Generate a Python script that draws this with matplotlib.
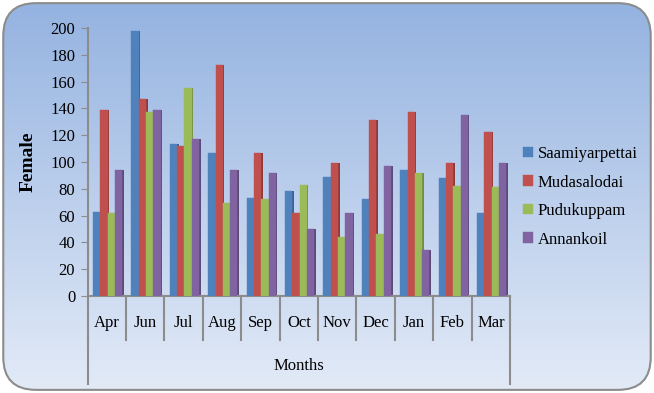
import matplotlib.pyplot as plt
import numpy as np
from matplotlib.patches import FancyBboxPatch

months = ['Apr', 'Jun', 'Jul', 'Aug', 'Sep', 'Oct', 'Nov', 'Dec', 'Jan', 'Feb', 'Mar']
saamiyarpettai = [63, 198, 113, 107, 73, 78, 89, 72, 94, 88, 62]
mudasalodai = [139, 147, 112, 172, 107, 62, 99, 131, 137, 99, 122]
pudukuppam = [62, 137, 155, 69, 72, 83, 44, 46, 92, 82, 81]
annankoil = [94, 139, 117, 94, 92, 50, 62, 97, 34, 135, 99]

series = [('Saamiyarpettai', saamiyarpettai, '#4F81BD', '#3A6297'),
          ('Mudasalodai', mudasalodai, '#C0504D', '#8E3A38'),
          ('Pudukuppam', pudukuppam, '#9BBB59', '#728C40'),
          ('Annankoil', annankoil, '#8064A2', '#5E4A78')]

plt.rcParams['font.family'] = ['Liberation Serif', 'DejaVu Serif']

fig = plt.figure(figsize=(6.54, 3.93), dpi=100)

# background gradient with rounded border
bg = fig.add_axes([0, 0, 1, 1])
bg.set_xlim(0, 1)
bg.set_ylim(0, 1)
bg.axis('off')
grad = np.linspace(0, 1, 256).reshape(-1, 1)
top = np.array([0.58, 0.70, 0.88])
bot = np.array([0.89, 0.92, 0.97])
img = top[None, None, :] * (1 - grad[:, :, None]) + bot[None, None, :] * grad[:, :, None]
im = bg.imshow(img, extent=[0, 1, 0, 1], aspect='auto', origin='upper')
box = FancyBboxPatch((0.005, 0.008), 0.99, 0.984, boxstyle='round,pad=0,rounding_size=0.05',
                     transform=bg.transAxes, facecolor='none', edgecolor='#8C8C8C', lw=1.5,
                     mutation_aspect=654 / 393)
bg.add_patch(box)
im.set_clip_path(box)

ax = fig.add_axes([0.134, 0.247, 0.646, 0.682])
ax.patch.set_alpha(0)
x = np.arange(len(months))
w = 0.19
depth = 0.05
for i, (name, vals, col, dark) in enumerate(series):
    pos = x - 0.36 + i * w + w / 2
    # side face for depth effect
    ax.bar(pos + w / 2 + depth / 2 - 0.01, vals, width=depth, color=dark, zorder=2)
    ax.bar(pos, vals, width=w, color=col, label=name, zorder=3, edgecolor=col, lw=0.3)

ax.set_xlim(-0.5, len(months) - 0.5)
ax.set_ylim(0, 200)
ax.set_yticks(range(0, 201, 20))
ax.tick_params(axis='y', labelsize=12, color='#8C8C8C', length=5, direction='out', pad=4)
ax.set_xticks([])
for s in ['top', 'right']:
    ax.spines[s].set_visible(False)
ax.spines['left'].set_color('#8C8C8C')
ax.spines['bottom'].set_color('#8C8C8C')
ax.spines['left'].set_linewidth(1.5)
ax.spines['bottom'].set_linewidth(1.5)
ax.set_ylabel('Female', fontsize=14, fontweight='bold', labelpad=10)

# category table below axis
for k in range(len(months) + 1):
    xb = k - 0.5
    ylo = -0.33 if k in (0, len(months)) else -0.165
    ax.plot([xb, xb], [0, ylo * 200], color='#8C8C8C', lw=1.5, clip_on=False,
            transform=ax.transData)
for k, m in enumerate(months):
    ax.text(k, -20, m, ha='center', va='center', fontsize=12, clip_on=False)
ax.text(5, -52, 'Months', ha='center', va='center', fontsize=12)

ax.legend(loc='center left', bbox_to_anchor=(0.995, 0.37), frameon=False, fontsize=12,
          handlelength=0.6, handleheight=0.6, handletextpad=0.3, labelspacing=0.75)

fig.savefig('out.png', dpi=100)
